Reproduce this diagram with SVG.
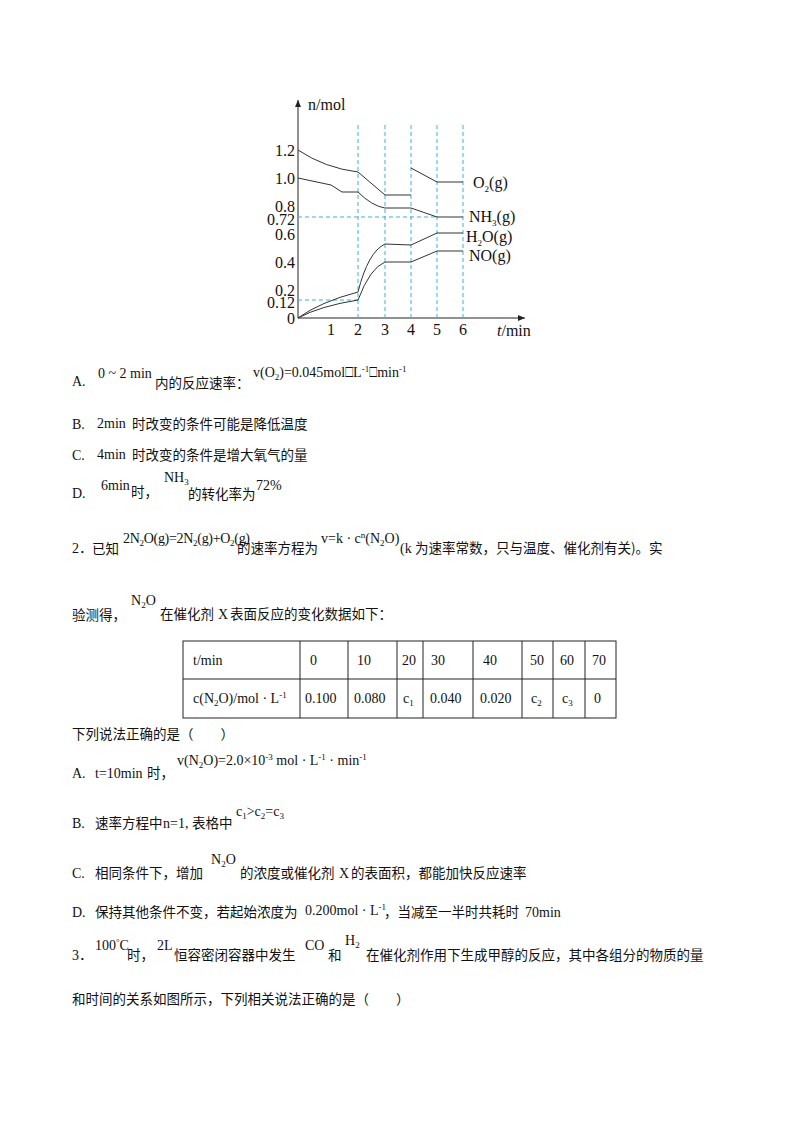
<svg xmlns="http://www.w3.org/2000/svg" width="800" height="1132" viewBox="0 0 800 1132">
<defs>
<style>
text{font-family:"Liberation Serif","Noto Sans CJK SC",serif;font-size:14px;fill:#111}
.cn{font-family:"Noto Sans CJK SC",sans-serif;font-size:13.5px}
.ax{font-size:16px}
.sm{font-size:9px}
.c{stroke:#333;stroke-width:1;fill:none}
.d{stroke:#3ab0e0;stroke-width:1;stroke-dasharray:4,3;fill:none}
.t{stroke:#222;stroke-width:1;fill:none}
</style>
<marker id="ar" markerWidth="8" markerHeight="8" refX="7" refY="4" orient="auto"><path d="M0,1 L7,4 L0,7 z" fill="#222"/></marker>
</defs>
<rect width="800" height="1132" fill="#fff"/>
<g id="chart">
<line class="t" x1="298" y1="318" x2="298" y2="100" marker-end="url(#ar)"/>
<line class="t" x1="298" y1="318" x2="525" y2="318" marker-end="url(#ar)"/>
<g class="d">
<line x1="358" y1="125" x2="358" y2="318"/><line x1="385" y1="125" x2="385" y2="318"/>
<line x1="411" y1="125" x2="411" y2="318"/><line x1="437" y1="125" x2="437" y2="318"/>
<line x1="463" y1="125" x2="463" y2="318"/>
<line x1="298" y1="217" x2="437" y2="217"/><line x1="298" y1="300" x2="358" y2="300"/>
</g>
<g id="connectors">
<path class="c" d="M298,150 Q325,168 358,172 L385,195 L411,195"/>
<path class="c" d="M411,168 L437,182 L463,182"/>
<path class="c" d="M298,178 L331,185 L342,192 L358,192 Q372,206 385,208 L411,208 L437,217 L463,217"/>
<path class="c" d="M298,318 Q320,302 358,292 Q368,252 385,244 L411,245 L437,233 L463,233"/>
<path class="c" d="M298,318 Q320,306 358,300 Q370,268 385,262 L411,262 L437,251 L463,251"/>
</g>
<text x="308" y="110" class="ax">n/mol</text>
<g text-anchor="end">
<text x="295" y="156" class="ax">1.2</text><text x="295" y="184" class="ax">1.0</text>
<text x="295" y="212" class="ax">0.8</text><text x="295" y="225" class="ax">0.72</text>
<text x="295" y="240" class="ax">0.6</text><text x="295" y="268" class="ax">0.4</text>
<text x="295" y="296" class="ax">0.2</text><text x="295" y="308" class="ax">0.12</text>
<text x="295" y="324" class="ax">0</text>
</g>
<g text-anchor="middle">
<text x="331" y="335" class="ax">1</text><text x="358" y="335" class="ax">2</text><text x="385" y="335" class="ax">3</text>
<text x="411" y="335" class="ax">4</text><text x="437" y="335" class="ax">5</text><text x="463" y="335" class="ax">6</text>
</g>
<text x="497" y="336" class="ax"><tspan font-style="italic">t</tspan>/min</text>
<text x="473" y="188" class="ax">O<tspan class="sm" dy="4">2</tspan><tspan dy="-4">(g)</tspan></text>
<text x="469" y="222" class="ax">NH<tspan class="sm" dy="4">3</tspan><tspan dy="-4">(g)</tspan></text>
<text x="466" y="242" class="ax">H<tspan class="sm" dy="4">2</tspan><tspan dy="-4">O(g)</tspan></text>
<text x="469" y="261" class="ax">NO(g)</text>
</g>
<g id="q1opts">
<text x="72" y="386">A.</text><text x="98" y="378">0 ~ 2 min</text><text x="155" y="388" class="cn">内的反应速率：</text>
<text x="253" y="377">v(O<tspan class="sm" dy="3">2</tspan><tspan dy="-3">)=0.045mol⎕L</tspan><tspan class="sm" dy="-5">-1</tspan><tspan dy="5">⎕min</tspan><tspan class="sm" dy="-5">-1</tspan></text>
<text x="72" y="429">B.</text><text x="97" y="428">2min</text><text x="132" y="429" class="cn">时改变的条件可能是降低温度</text>
<text x="72" y="460">C.</text><text x="97" y="459">4min</text><text x="132" y="460" class="cn">时改变的条件是增大氧气的量</text>
<text x="72" y="498">D.</text><text x="101" y="490">6min</text><text x="131" y="497" class="cn">时，</text>
<text x="164" y="482">NH<tspan class="sm" dy="3">3</tspan></text><text x="188" y="499" class="cn">的转化率为</text><text x="256" y="490">72%</text>
</g>
<g id="q2">
<text x="72" y="553">2．</text><text x="92" y="554" class="cn">已知</text>
<text x="123" y="543" font-size="12" letter-spacing="-0.3">2N<tspan class="sm" dy="3">2</tspan><tspan dy="-3">O(g)=2N</tspan><tspan class="sm" dy="3">2</tspan><tspan dy="-3">(g)+O</tspan><tspan class="sm" dy="3">2</tspan><tspan dy="-3">(g)</tspan></text>
<text x="237" y="553" class="cn">的速率方程为</text>
<text x="321" y="543">v=k · c<tspan class="sm" dy="-5">n</tspan><tspan dy="5">(N</tspan><tspan class="sm" dy="3">2</tspan><tspan dy="-3">O)</tspan></text>
<text x="400" y="553">(k</text><text x="415" y="553" class="cn">为速率常数，只与温度、催化剂有关)。实</text>
<text x="72" y="620" class="cn">验测得，</text>
<text x="131" y="605">N<tspan class="sm" dy="3">2</tspan><tspan dy="-3">O</tspan></text>
<text x="160" y="619" class="cn">在催化剂</text><text x="218" y="619">X</text><text x="230" y="619" class="cn">表面反应的变化数据如下：</text>
</g>
<g id="table">
<rect x="183" y="641" width="433" height="77" class="t"/>
<line class="t" x1="183" y1="679" x2="616" y2="679"/>
<g class="t">
<line x1="300" y1="641" x2="300" y2="718"/><line x1="348" y1="641" x2="348" y2="718"/>
<line x1="397" y1="641" x2="397" y2="718"/><line x1="423" y1="641" x2="423" y2="718"/>
<line x1="473" y1="641" x2="473" y2="718"/><line x1="522" y1="641" x2="522" y2="718"/>
<line x1="553" y1="641" x2="553" y2="718"/><line x1="585" y1="641" x2="585" y2="718"/>
</g>
<text x="193" y="665">t/min</text><text x="310" y="665">0</text><text x="357" y="665">10</text>
<text x="402" y="665">20</text><text x="431" y="665">30</text><text x="483" y="665">40</text>
<text x="530" y="665">50</text><text x="560" y="665">60</text><text x="592" y="665">70</text>
<text x="193" y="703">c(N<tspan class="sm" dy="3">2</tspan><tspan dy="-3">O)/mol · L</tspan><tspan class="sm" dy="-5">-1</tspan></text>
<text x="305" y="703">0.100</text><text x="354" y="703">0.080</text><text x="403" y="703">c<tspan class="sm" dy="3">1</tspan></text>
<text x="430" y="703">0.040</text><text x="480" y="703">0.020</text><text x="531" y="703">c<tspan class="sm" dy="3">2</tspan></text>
<text x="562" y="703">c<tspan class="sm" dy="3">3</tspan></text><text x="594" y="703">0</text>
</g>
<g id="q2opts">
<text x="72" y="739" class="cn">下列说法正确的是（　　）</text>
<text x="72" y="778">A.</text><text x="95" y="778">t=10min</text><text x="147" y="778" class="cn">时，</text>
<text x="177" y="765">v(N<tspan class="sm" dy="3">2</tspan><tspan dy="-3">O)=2.0×10</tspan><tspan class="sm" dy="-5">-3</tspan><tspan dy="5"> mol · L</tspan><tspan class="sm" dy="-5">-1</tspan><tspan dy="5"> · min</tspan><tspan class="sm" dy="-5">-1</tspan></text>
<text x="72" y="828">B.</text><text x="95" y="828" class="cn">速率方程中</text><text x="163" y="828">n=1,</text><text x="192" y="828" class="cn">表格中</text>
<text x="236" y="816">c<tspan class="sm" dy="3">1</tspan><tspan dy="-3">&gt;c</tspan><tspan class="sm" dy="3">2</tspan><tspan dy="-3">=c</tspan><tspan class="sm" dy="3">3</tspan></text>
<text x="72" y="878">C.</text><text x="95" y="878" class="cn">相同条件下，增加</text>
<text x="211" y="864">N<tspan class="sm" dy="3">2</tspan><tspan dy="-3">O</tspan></text>
<text x="240" y="878" class="cn">的浓度或催化剂</text><text x="339" y="878">X</text><text x="351" y="878" class="cn">的表面积，都能加快反应速率</text>
<text x="72" y="917">D.</text><text x="95" y="917" class="cn">保持其他条件不变，若起始浓度为</text>
<text x="305" y="915">0.200mol · L<tspan class="sm" dy="-5">-1</tspan></text>
<text x="384" y="917" class="cn">，当减至一半时共耗时</text><text x="525" y="917">70min</text>
</g>
<g id="q3">
<text x="72" y="960">3．</text><text x="95" y="950">100<tspan class="sm" dy="-5">°</tspan><tspan dy="5">C</tspan></text>
<text x="127" y="960" class="cn">时，</text><text x="157" y="950">2L</text><text x="174" y="960" class="cn">恒容密闭容器中发生</text>
<text x="305" y="950">CO</text><text x="328" y="960" class="cn">和</text><text x="345" y="945">H<tspan class="sm" dy="3">2</tspan></text>
<text x="366" y="960" class="cn">在催化剂作用下生成甲醇的反应，其中各组分的物质的量</text>
<text x="72" y="1004" class="cn">和时间的关系如图所示，下列相关说法正确的是（　　）</text>
</g>
</svg>
